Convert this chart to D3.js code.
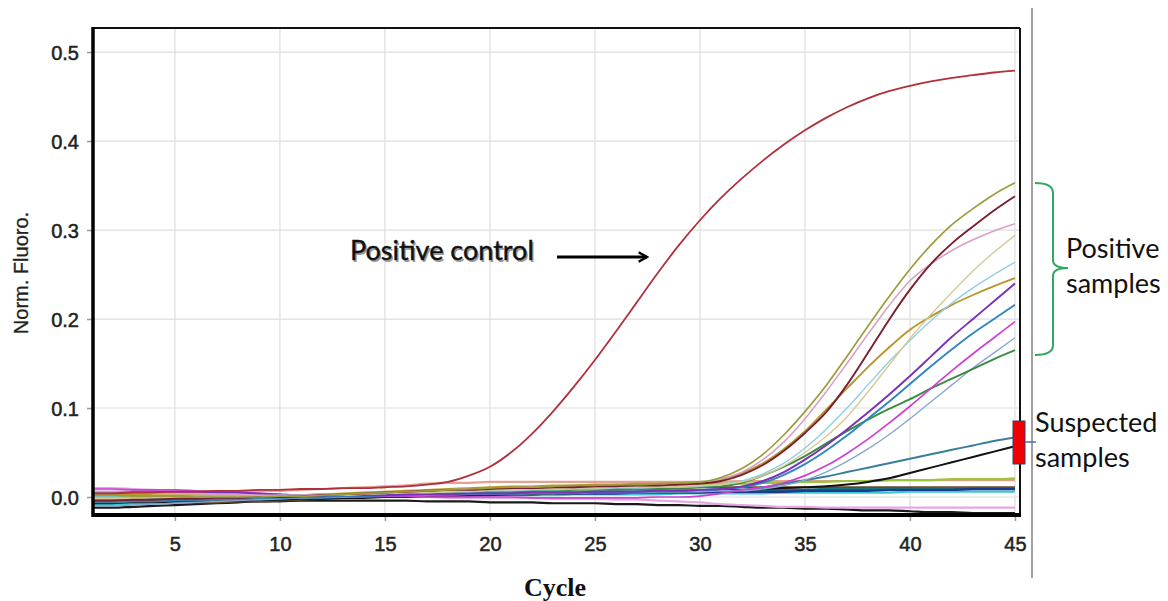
<!DOCTYPE html>
<html>

<head>
  <title>Amplification curves</title>
  <style type="text/css">
    body {
      margin: 0;
      background: #fff;
    }

    .tick-label {
      font-family: "Liberation Sans", Arial, sans-serif;
      font-size: 20px;
      fill: #222;
      stroke: #222;
      stroke-width: 0.5px;
    }

    .note {
      font-family: Lato, "Open Sans", sans-serif;
      font-size: 27px;
      fill: #111;
    }
  </style>
</head>

<body>
  <div id="chart"></div>
  <script type="text/javascript" src="https://cdn.jsdelivr.net/npm/d3@7"></script>
  <script type="text/javascript">
    // cycle numbers and axis ticks
    var cycles = d3.range(1, 46);
    var xTicks = [5, 10, 15, 20, 25, 30, 35, 40, 45];
    var yTicks = [0.0, 0.1, 0.2, 0.3, 0.4, 0.5];

    // normalised fluorescence per cycle (1..45)
    var positiveControl = [0.004, 0.004, 0.005, 0.005, 0.006, 0.006, 0.007, 0.007, 0.008, 0.008, 0.009, 0.009, 0.010, 0.010, 0.011, 0.012, 0.014, 0.017, 0.024, 0.034, 0.050, 0.071, 0.096, 0.124, 0.154, 0.186, 0.219, 0.252, 0.283, 0.311, 0.336, 0.358, 0.378, 0.396, 0.412, 0.426, 0.438, 0.448, 0.456, 0.462, 0.467, 0.471, 0.474, 0.477, 0.479];
    var sampleOlive = [0.002, 0.002, 0.001, 0.001, 0.001, 0.000, 0.000, 0.000, 0.000, 0.001, 0.001, 0.002, 0.003, 0.004, 0.005, 0.006, 0.007, 0.008, 0.009, 0.010, 0.011, 0.011, 0.012, 0.013, 0.013, 0.014, 0.014, 0.015, 0.016, 0.017, 0.022, 0.032, 0.048, 0.070, 0.096, 0.125, 0.158, 0.192, 0.225, 0.256, 0.283, 0.306, 0.324, 0.340, 0.353];
    var sampleMaroon = [-0.004, -0.004, -0.003, -0.003, -0.002, -0.002, -0.001, -0.001, 0.000, 0.000, 0.001, 0.002, 0.003, 0.004, 0.005, 0.006, 0.007, 0.008, 0.008, 0.009, 0.010, 0.010, 0.011, 0.011, 0.012, 0.012, 0.013, 0.013, 0.014, 0.015, 0.018, 0.025, 0.036, 0.052, 0.072, 0.095, 0.126, 0.162, 0.199, 0.233, 0.262, 0.285, 0.304, 0.322, 0.338];
    var samplePink = [0.006, 0.006, 0.005, 0.005, 0.004, 0.004, 0.003, 0.003, 0.002, 0.002, 0.002, 0.003, 0.003, 0.004, 0.005, 0.006, 0.007, 0.008, 0.009, 0.009, 0.010, 0.011, 0.011, 0.012, 0.012, 0.013, 0.013, 0.014, 0.015, 0.016, 0.020, 0.028, 0.042, 0.062, 0.088, 0.118, 0.150, 0.183, 0.215, 0.243, 0.262, 0.277, 0.289, 0.299, 0.307];
    var sampleTan = [-0.002, -0.002, -0.002, -0.001, -0.001, -0.001, 0.000, 0.000, 0.000, 0.001, 0.001, 0.002, 0.002, 0.003, 0.004, 0.005, 0.005, 0.006, 0.007, 0.008, 0.008, 0.009, 0.009, 0.010, 0.010, 0.011, 0.011, 0.012, 0.012, 0.013, 0.014, 0.017, 0.024, 0.035, 0.050, 0.068, 0.090, 0.118, 0.148, 0.178, 0.205, 0.230, 0.254, 0.275, 0.294];
    var sampleCyan = [0.000, 0.000, 0.000, 0.000, 0.000, 0.001, 0.001, 0.001, 0.001, 0.002, 0.002, 0.003, 0.003, 0.004, 0.004, 0.005, 0.005, 0.006, 0.006, 0.007, 0.007, 0.008, 0.008, 0.009, 0.009, 0.010, 0.010, 0.011, 0.011, 0.012, 0.014, 0.018, 0.026, 0.038, 0.055, 0.076, 0.100, 0.126, 0.152, 0.176, 0.198, 0.218, 0.235, 0.250, 0.264];
    var sampleGold = [0.003, 0.003, 0.003, 0.002, 0.002, 0.002, 0.002, 0.001, 0.001, 0.001, 0.002, 0.003, 0.004, 0.005, 0.006, 0.007, 0.008, 0.009, 0.010, 0.011, 0.012, 0.012, 0.013, 0.013, 0.014, 0.014, 0.015, 0.015, 0.015, 0.016, 0.020, 0.027, 0.038, 0.054, 0.074, 0.098, 0.122, 0.146, 0.168, 0.188, 0.203, 0.216, 0.227, 0.237, 0.246];
    var samplePurple = [0.006, 0.006, 0.006, 0.006, 0.005, 0.005, 0.005, 0.005, 0.004, 0.003, 0.002, 0.002, 0.002, 0.002, 0.002, 0.003, 0.003, 0.003, 0.004, 0.004, 0.004, 0.005, 0.005, 0.005, 0.006, 0.006, 0.006, 0.007, 0.007, 0.008, 0.009, 0.012, 0.018, 0.028, 0.042, 0.058, 0.076, 0.095, 0.115, 0.136, 0.158, 0.180, 0.200, 0.220, 0.240];
    var sampleBlue = [-0.004, -0.004, -0.003, -0.003, -0.003, -0.002, -0.002, -0.002, -0.001, -0.001, 0.000, 0.000, 0.001, 0.001, 0.002, 0.002, 0.003, 0.003, 0.004, 0.004, 0.004, 0.005, 0.005, 0.005, 0.006, 0.006, 0.006, 0.007, 0.007, 0.008, 0.009, 0.011, 0.016, 0.025, 0.037, 0.052, 0.069, 0.088, 0.107, 0.127, 0.147, 0.166, 0.184, 0.200, 0.216];
    var sampleMagenta = [0.009, 0.009, 0.008, 0.008, 0.008, 0.007, 0.006, 0.005, 0.004, 0.003, 0.002, 0.001, 0.001, 0.001, 0.001, 0.001, 0.000, 0.000, 0.000, 0.000, 0.000, -0.001, -0.001, -0.001, -0.001, -0.001, -0.001, 0.000, 0.000, 0.001, 0.004, 0.008, 0.011, 0.016, 0.024, 0.035, 0.049, 0.065, 0.083, 0.102, 0.122, 0.142, 0.161, 0.179, 0.197];
    var sampleSlate = [-0.010, -0.010, -0.009, -0.008, -0.007, -0.006, -0.005, -0.004, -0.003, -0.002, -0.001, 0.000, 0.000, 0.001, 0.001, 0.002, 0.002, 0.003, 0.003, 0.003, 0.004, 0.004, 0.004, 0.005, 0.005, 0.005, 0.005, 0.006, 0.006, 0.006, 0.007, 0.007, 0.009, 0.013, 0.019, 0.028, 0.040, 0.054, 0.070, 0.088, 0.107, 0.126, 0.145, 0.162, 0.179];
    var sampleGreen = [0.001, 0.001, 0.001, 0.001, 0.001, 0.001, 0.000, 0.000, 0.000, 0.000, 0.000, 0.001, 0.001, 0.002, 0.002, 0.003, 0.004, 0.004, 0.005, 0.006, 0.006, 0.007, 0.007, 0.008, 0.008, 0.008, 0.009, 0.009, 0.010, 0.011, 0.012, 0.016, 0.024, 0.034, 0.046, 0.060, 0.074, 0.087, 0.099, 0.110, 0.122, 0.133, 0.144, 0.155, 0.165];
    var suspectTeal = [-0.006, -0.006, -0.005, -0.005, -0.004, -0.004, -0.003, -0.003, -0.002, -0.002, -0.001, -0.001, 0.000, 0.000, 0.001, 0.001, 0.002, 0.002, 0.003, 0.003, 0.003, 0.004, 0.004, 0.004, 0.005, 0.005, 0.005, 0.006, 0.006, 0.007, 0.007, 0.008, 0.011, 0.015, 0.019, 0.023, 0.028, 0.033, 0.038, 0.043, 0.048, 0.053, 0.058, 0.063, 0.067];
    var suspectBlack = [-0.007, -0.007, -0.006, -0.006, -0.005, -0.005, -0.004, -0.004, -0.003, -0.003, -0.002, -0.002, -0.001, -0.001, 0.000, 0.000, 0.001, 0.001, 0.002, 0.002, 0.003, 0.003, 0.004, 0.004, 0.005, 0.005, 0.006, 0.006, 0.007, 0.007, 0.008, 0.008, 0.009, 0.010, 0.011, 0.012, 0.014, 0.017, 0.021, 0.027, 0.033, 0.039, 0.045, 0.051, 0.057];
    var negLightGreen = [0.000, 0.000, 0.000, 0.001, 0.001, 0.001, 0.001, 0.001, 0.001, 0.002, 0.002, 0.003, 0.003, 0.004, 0.005, 0.005, 0.006, 0.007, 0.007, 0.008, 0.009, 0.009, 0.010, 0.011, 0.011, 0.012, 0.013, 0.013, 0.014, 0.014, 0.015, 0.015, 0.016, 0.016, 0.017, 0.017, 0.018, 0.018, 0.019, 0.019, 0.019, 0.020, 0.020, 0.020, 0.021];
    var negPeach = [0.004, 0.004, 0.004, 0.005, 0.005, 0.005, 0.006, 0.006, 0.007, 0.007, 0.008, 0.009, 0.010, 0.011, 0.012, 0.013, 0.015, 0.016, 0.016, 0.017, 0.017, 0.017, 0.017, 0.017, 0.017, 0.017, 0.017, 0.017, 0.017, 0.017, 0.017, 0.018, 0.018, 0.018, 0.018, 0.018, 0.018, 0.018, 0.019, 0.019, 0.019, 0.019, 0.019, 0.019, 0.019];
    var negNavy = [-0.003, -0.003, -0.003, -0.002, -0.002, -0.002, -0.002, -0.001, -0.001, -0.001, 0.000, 0.000, 0.000, 0.001, 0.001, 0.001, 0.002, 0.002, 0.002, 0.003, 0.003, 0.003, 0.004, 0.004, 0.004, 0.004, 0.005, 0.005, 0.005, 0.005, 0.006, 0.006, 0.006, 0.006, 0.007, 0.007, 0.007, 0.007, 0.008, 0.008, 0.008, 0.008, 0.009, 0.009, 0.009];
    var negDarkTeal = [-0.001, -0.001, -0.001, 0.000, 0.000, 0.000, 0.000, 0.000, 0.001, 0.001, 0.001, 0.001, 0.002, 0.002, 0.002, 0.003, 0.003, 0.003, 0.004, 0.004, 0.004, 0.005, 0.005, 0.005, 0.006, 0.006, 0.006, 0.006, 0.007, 0.007, 0.007, 0.008, 0.008, 0.008, 0.008, 0.009, 0.009, 0.009, 0.009, 0.009, 0.010, 0.010, 0.010, 0.010, 0.010];
    var negLightCyan = [-0.009, -0.009, -0.008, -0.007, -0.006, -0.005, -0.004, -0.003, -0.003, -0.002, -0.002, -0.001, -0.001, 0.000, 0.000, 0.000, 0.001, 0.001, 0.001, 0.002, 0.002, 0.002, 0.002, 0.003, 0.003, 0.003, 0.003, 0.003, 0.004, 0.004, 0.004, 0.004, 0.004, 0.005, 0.005, 0.005, 0.005, 0.005, 0.005, 0.006, 0.006, 0.006, 0.006, 0.006, 0.006];
    var negViolet = [0.010, 0.010, 0.009, 0.008, 0.007, 0.006, 0.005, 0.004, 0.003, 0.002, 0.001, 0.001, 0.000, 0.000, 0.000, 0.000, 0.000, -0.001, -0.001, -0.001, -0.001, -0.001, -0.002, -0.002, -0.002, -0.003, -0.003, -0.004, -0.005, -0.006, -0.008, -0.009, -0.010, -0.011, -0.011, -0.012, -0.012, -0.012, -0.012, -0.012, -0.012, -0.012, -0.012, -0.012, -0.012];
    var negBrown = [-0.005, -0.005, -0.005, -0.005, -0.006, -0.006, -0.006, -0.005, -0.005, -0.004, -0.003, -0.002, -0.001, 0.000, 0.001, 0.002, 0.003, 0.004, 0.005, 0.006, 0.007, 0.008, 0.008, 0.009, 0.009, 0.010, 0.010, 0.010, 0.010, 0.011, 0.011, 0.011, 0.011, 0.011, 0.011, 0.011, 0.011, 0.011, 0.011, 0.011, 0.011, 0.011, 0.011, 0.011, 0.011];
    var negBottom = [-0.012, -0.012, -0.011, -0.010, -0.009, -0.008, -0.007, -0.006, -0.005, -0.005, -0.004, -0.004, -0.004, -0.004, -0.004, -0.004, -0.005, -0.005, -0.005, -0.006, -0.006, -0.006, -0.007, -0.007, -0.007, -0.008, -0.008, -0.009, -0.009, -0.010, -0.010, -0.011, -0.012, -0.012, -0.013, -0.013, -0.014, -0.015, -0.015, -0.016, -0.017, -0.017, -0.018, -0.018, -0.018];

    // drawing order: flat ones at the back, control in front
    var series = [
      { values: negBottom, color: "#1a1a1a", width: 2.2 },
      { values: negViolet, color: "#e6a6e6", width: 2.2 },
      { values: negBrown, color: "#6b4526", width: 2.2 },
      { values: negLightCyan, color: "#3ec6d6", width: 2.2 },
      { values: negDarkTeal, color: "#1c7474", width: 2.4 },
      { values: negNavy, color: "#1a3c8c", width: 2.4 },
      { values: negPeach, color: "#e4a090", width: 2.2 },
      { values: negLightGreen, color: "#9cc43c", width: 2.2 },
      { values: suspectBlack, color: "#111111", width: 2 },
      { values: suspectTeal, color: "#3a7e9c", width: 2 },
      { values: sampleSlate, color: "#8aa6d0", width: 1.4 },
      { values: sampleGreen, color: "#3a8c40", width: 1.9 },
      { values: sampleMagenta, color: "#d040d0", width: 1.7 },
      { values: sampleBlue, color: "#2f86c0", width: 1.9 },
      { values: samplePurple, color: "#7a30b8", width: 1.9 },
      { values: sampleGold, color: "#b8962e", width: 1.9 },
      { values: sampleCyan, color: "#8fd0e0", width: 1.4 },
      { values: sampleTan, color: "#d8c898", width: 1.4 },
      { values: samplePink, color: "#d9a0c8", width: 1.6 },
      { values: sampleMaroon, color: "#7a1f2e", width: 1.9 },
      { values: sampleOlive, color: "#9c9c3c", width: 1.7 },
      { values: positiveControl, color: "#b0303c", width: 1.8 }
    ];

    var w = 1168,
      h = 601,
      plotLeft = 93,
      plotRight = 1020,
      plotTop = 28,
      plotBottom = 515;

    var x = d3.scaleLinear().domain([1.1, 45.24]).range([plotLeft, plotRight]);
    var y = d3.scaleLinear().domain([-0.0202, 0.527]).range([plotBottom, plotTop]);

    var svg = d3.select("#chart").append("svg")
      .attr("width", w)
      .attr("height", h);

    svg.append("rect").attr("width", w).attr("height", h).attr("fill", "#fff");

    svg.append("clipPath").attr("id", "plot")
      .append("rect")
      .attr("x", plotLeft).attr("y", plotTop)
      .attr("width", plotRight - plotLeft).attr("height", plotBottom - plotTop);

    // grid
    svg.append("g").selectAll("line")
      .data(xTicks)
      .enter().append("line")
      .attr("x1", x).attr("x2", x)
      .attr("y1", plotTop).attr("y2", plotBottom)
      .attr("stroke", "#dedede").attr("stroke-width", 1.2);

    svg.append("g").selectAll("line")
      .data(yTicks)
      .enter().append("line")
      .attr("x1", plotLeft).attr("x2", plotRight)
      .attr("y1", y).attr("y2", y)
      .attr("stroke", "#dedede").attr("stroke-width", 1.2);

    // axes
    var xAxis = d3.axisBottom(x).tickValues(xTicks).tickSize(6).tickPadding(16).tickFormat(d3.format("d"));
    var yAxis = d3.axisLeft(y).tickValues(yTicks).tickSize(6).tickPadding(8).tickFormat(d3.format(".1f"));

    var gx = svg.append("g").attr("transform", "translate(0," + plotBottom + ")").call(xAxis);
    var gy = svg.append("g").attr("transform", "translate(" + plotLeft + ",0)").call(yAxis);

    [gx, gy].forEach(function (g) {
      g.select(".domain").remove();
      g.selectAll(".tick line").attr("stroke", "#999").attr("stroke-width", 1.5);
      g.selectAll(".tick text").attr("class", "tick-label").attr("font-size", null).attr("font-family", null);
    });
    gy.selectAll(".tick text").attr("dy", "0.36em");

    // curves
    var line = d3.line()
      .x(function (d, i) { return x(cycles[i]); })
      .y(function (d) { return y(d); })
      .curve(d3.curveMonotoneX);

    svg.append("g")
      .attr("clip-path", "url(#plot)")
      .selectAll("path")
      .data(series)
      .enter().append("path")
      .attr("d", function (d) { return line(d.values); })
      .attr("fill", "none")
      .attr("stroke", function (d) { return d.color; })
      .attr("stroke-width", function (d) { return d.width; });

    // frame
    svg.append("line").attr("x1", plotLeft).attr("x2", plotRight).attr("y1", plotTop).attr("y2", plotTop)
      .attr("stroke", "#111").attr("stroke-width", 2);
    svg.append("line").attr("x1", plotRight).attr("x2", plotRight).attr("y1", plotTop).attr("y2", plotBottom)
      .attr("stroke", "#111").attr("stroke-width", 2);
    svg.append("line").attr("x1", plotLeft).attr("x2", plotLeft).attr("y1", plotTop - 1).attr("y2", plotBottom + 2)
      .attr("stroke", "#000").attr("stroke-width", 3.5);
    svg.append("line").attr("x1", plotLeft - 1).attr("x2", plotRight + 1).attr("y1", plotBottom).attr("y2", plotBottom)
      .attr("stroke", "#000").attr("stroke-width", 4);

    // axis titles
    svg.append("text")
      .attr("transform", "translate(28,273) rotate(-90)")
      .attr("text-anchor", "middle")
      .style("font-family", "'Liberation Sans', Arial, sans-serif")
      .style("font-size", "20px")
      .style("fill", "#222")
      .style("stroke", "#222").style("stroke-width", 0.3)
      .text("Norm. Fluoro.");

    svg.append("text")
      .attr("x", 555).attr("y", 596)
      .attr("text-anchor", "middle")
      .style("font-family", "'Liberation Serif', 'Times New Roman', serif")
      .style("font-weight", "bold")
      .style("font-size", "26px")
      .style("fill", "#111")
      .text("Cycle");

    // positive control note and arrow
    svg.append("defs").append("marker")
      .attr("id", "head")
      .attr("viewBox", "0 0 10 10")
      .attr("refX", 8).attr("refY", 5)
      .attr("markerWidth", 4).attr("markerHeight", 4)
      .attr("orient", "auto")
      .append("path")
      .attr("d", "M1,1 L8,5 L1,9")
      .attr("fill", "none").attr("stroke", "#000").attr("stroke-width", 2);

    svg.append("text").attr("class", "note")
      .attr("x", 350).attr("y", 260)
      .style("fill", "#999").attr("transform", "translate(1.5,1.5)")
      .text("Positive control");
    svg.append("text").attr("class", "note")
      .attr("x", 350).attr("y", 260)
      .style("stroke", "#111").style("stroke-width", 0.4)
      .text("Positive control");

    svg.append("line")
      .attr("x1", 557).attr("x2", 647).attr("y1", 257).attr("y2", 257)
      .attr("stroke", "#000").attr("stroke-width", 3)
      .attr("marker-end", "url(#head)");

    // right-hand annotations
    svg.append("line")
      .attr("x1", 1032).attr("x2", 1032).attr("y1", 8).attr("y2", 578)
      .attr("stroke", "#a0a0a0").attr("stroke-width", 2);

    var b0 = 183, b1 = 355, bm = 268;
    svg.append("path")
      .attr("d", "M1035," + b0 + " Q1053," + b0 + " 1053," + (b0 + 10) +
        " L1053," + (bm - 8) + " Q1053," + bm + " 1068," + bm +
        " Q1053," + bm + " 1053," + (bm + 8) +
        " L1053," + (b1 - 10) + " Q1053," + b1 + " 1035," + b1)
      .attr("fill", "none").attr("stroke", "#2eaa5e").attr("stroke-width", 2);

    svg.append("text").attr("class", "note").attr("x", 1066).attr("y", 258).text("Positive");
    svg.append("text").attr("class", "note").attr("x", 1066).attr("y", 293).text("samples");

    svg.append("rect")
      .attr("x", 1013).attr("y", 421).attr("width", 12).attr("height", 43)
      .attr("fill", "#f00000").attr("stroke", "#30406a").attr("stroke-width", 1);
    svg.append("line")
      .attr("x1", 1025).attr("x2", 1036).attr("y1", 442).attr("y2", 442)
      .attr("stroke", "#4a70b0").attr("stroke-width", 1.5);

    svg.append("text").attr("class", "note").attr("x", 1035).attr("y", 432).text("Suspected");
    svg.append("text").attr("class", "note").attr("x", 1035).attr("y", 467).text("samples");
  </script>
</body>

</html>
